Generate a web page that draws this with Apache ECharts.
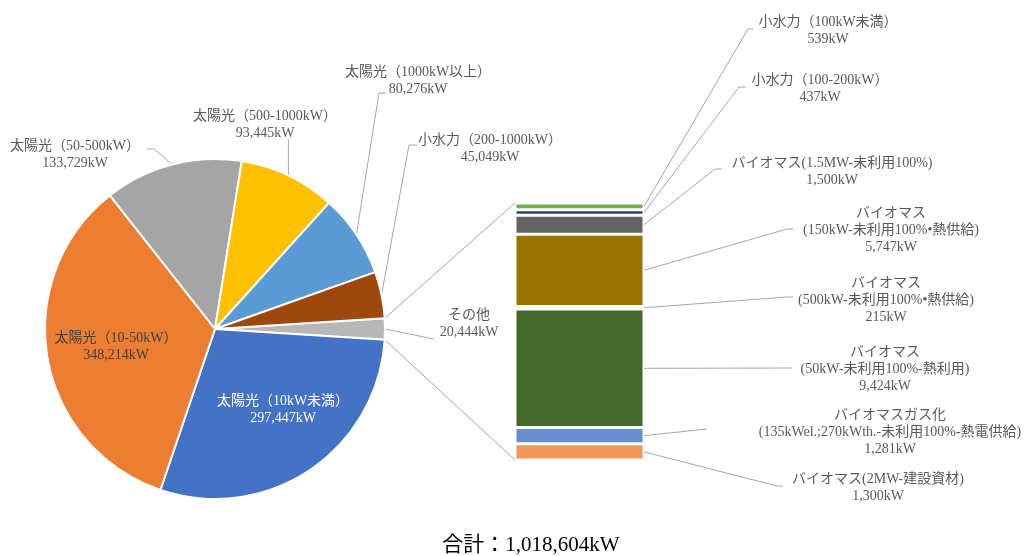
<!DOCTYPE html>
<html>
<head>
<meta charset="utf-8">
<script src="https://cdn.jsdelivr.net/npm/echarts@6/dist/echarts.min.js"></script>
<style>
  html, body { margin: 0; padding: 0; background: #ffffff; }
  #chart { width: 1031px; height: 556px; }
</style>
</head>
<body>
<div id="chart"></div>
<script>
// Pie slices, clockwise from the aggregated "その他" slice at 3 o'clock
const pieNames = ['その他', '太陽光（10kW未満）', '太陽光（10-50kW）', '太陽光（50-500kW）',
  '太陽光（500-1000kW）', '太陽光（1000kW以上）', '小水力（200-1000kW）'];
const pieValues = [20444, 297447, 348214, 133729, 93445, 80276, 45049];
const pieColors = ['#B7B7B7', '#4472C4', '#ED7D31', '#A5A5A5', '#FFC000', '#5B9BD5', '#9E480E'];

// Breakdown of "その他", stacked from the bottom of the bar upwards
const barNames = ['バイオマス(2MW-建設資材)', 'バイオマスガス化\n(135kWel.;270kWth.-未利用100%-熱電供給)',
  'バイオマス\n(50kW-未利用100%-熱利用)', 'バイオマス\n(500kW-未利用100%•熱供給)',
  'バイオマス\n(150kW-未利用100%•熱供給)', 'バイオマス(1.5MW-未利用100%)',
  '小水力（100-200kW）', '小水力（100kW未満）'];
const barValues = [1300, 1281, 9424, 215, 5747, 1500, 437, 539];
const barColors = ['#F1975A', '#698ED0', '#43682B', '#255E91', '#997300', '#636363', '#264478', '#70AD47'];

const FONT = "'Liberation Serif', 'Noto Sans CJK JP', serif";
const TEXT = '#595959';
const LINE = '#A6A6A6';

// Geometry of the pie and of the breakdown bar
const PIE = { cx: 215, cy: 329, r: 170 };
const BAR = { left: 515, top: 203, width: 129, height: 257 };

// Label anchor (centre of the text block) and leader-line bends
const pieLabelPos = [
  { x: 469, y: 324, bends: [[434, 339]] },
  { x: 283, y: 410, inside: true, color: '#FFFFFF' },
  { x: 116, y: 347, inside: true, color: '#404040' },
  { x: 75, y: 155, bends: [[154, 149], [147, 149]] },
  { x: 265, y: 124.5, vertical: 140 },
  { x: 418, y: 80.5, bends: [[379, 93], [386, 93]] },
  { x: 490, y: 149, bends: [[409, 145], [417, 145]] }
];
const barLabelPos = [
  { x: 878, y: 488, bends: [[777, 486], [783, 486]] },
  { x: 890, y: 432.5, bends: [[707, 429]] },
  { x: 885, y: 369, bends: [[792, 368]] },
  { x: 886, y: 300, bends: [[787, 297], [793, 297]] },
  { x: 891, y: 230.5, bends: [[787, 229], [793, 229]] },
  { x: 832, y: 171.5, bends: [[715, 169], [722, 169]] },
  { x: 820, y: 88.5, bends: [[739, 87], [746, 87]] },
  { x: 828, y: 30.5, bends: [[748, 29], [753, 29]] }
];

const fmt = v => v.toLocaleString('en-US');
const pieTotal = pieValues.reduce((a, b) => a + b, 0);
const barTotal = barValues.reduce((a, b) => a + b, 0);

// "その他" is centred on the horizontal axis
const halfOther = pieValues[0] / pieTotal * 180;
const rad = halfOther * Math.PI / 180;
const otherTop = [PIE.cx + PIE.r * Math.cos(rad), PIE.cy - PIE.r * Math.sin(rad)];
const otherBottom = [PIE.cx + PIE.r * Math.cos(rad), PIE.cy + PIE.r * Math.sin(rad)];

const pieData = pieNames.map((name, i) => ({
  name,
  value: pieValues[i],
  itemStyle: { color: pieColors[i] },
  label: { color: pieLabelPos[i].color || TEXT },
  labelLine: { show: !pieLabelPos[i].inside }
}));

const barSeries = barValues.map((v, i) => ({
  type: 'bar',
  name: barNames[i],
  stack: 'other',
  data: [v],
  barWidth: '100%',
  itemStyle: { color: barColors[i], borderColor: '#FFFFFF', borderWidth: 1.5 },
  label: {
    show: true,
    position: 'right',
    formatter: p => p.seriesName + '\n' + fmt(p.value) + 'kW',
    fontFamily: FONT, fontSize: 14, lineHeight: 17, color: TEXT, align: 'center'
  },
  labelLayout: () => ({
    x: barLabelPos[i].x, y: barLabelPos[i].y, align: 'center', verticalAlign: 'middle'
  }),
  emphasis: { disabled: true },
  silent: true
}));

const chart = echarts.init(document.getElementById('chart'), null, { renderer: 'canvas' });
chart.setOption({
  animation: false,
  backgroundColor: '#FFFFFF',
  grid: { left: BAR.left, top: BAR.top, width: BAR.width, height: BAR.height, containLabel: false },
  xAxis: { type: 'category', data: [''], show: false },
  yAxis: { type: 'value', min: 0, max: barTotal, show: false },
  series: [
    {
      type: 'pie',
      center: [PIE.cx, PIE.cy],
      radius: PIE.r,
      startAngle: halfOther,
      clockwise: true,
      avoidLabelOverlap: false,
      data: pieData,
      itemStyle: { borderColor: '#FFFFFF', borderWidth: 2 },
      label: {
        show: true,
        position: 'outside',
        formatter: p => p.name + '\n' + fmt(p.value) + 'kW',
        fontFamily: FONT, fontSize: 14, lineHeight: 17, align: 'center'
      },
      labelLine: { show: true, length: 10, length2: 10, lineStyle: { color: LINE, width: 1 } },
      labelLayout: p => {
        const pos = pieLabelPos[p.dataIndex];
        const out = { x: pos.x, y: pos.y, align: 'center', verticalAlign: 'middle' };
        if (!pos.inside && p.labelLinePoints) {
          const start = p.labelLinePoints[0];
          out.labelLinePoints = pos.vertical != null
            ? [start, [start[0], pos.vertical]]
            : [start].concat(pos.bends);
        }
        return out;
      },
      emphasis: { disabled: true },
      silent: true
    }
  ].concat(barSeries)
});

// Leader lines from the middle of each bar segment's right edge to its label
const graphics = [
  { type: 'line', silent: true, z: 0,
    shape: { x1: otherTop[0], y1: otherTop[1], x2: BAR.left, y2: BAR.top },
    style: { stroke: LINE, lineWidth: 1 } },
  { type: 'line', silent: true, z: 0,
    shape: { x1: otherBottom[0], y1: otherBottom[1], x2: BAR.left, y2: BAR.top + BAR.height },
    style: { stroke: LINE, lineWidth: 1 } },
  { type: 'text', silent: true, x: 531, y: 545,
    style: { text: '合計：' + fmt(pieTotal) + 'kW', fontFamily: FONT, fontSize: 21,
      fill: '#000000', align: 'center', verticalAlign: 'middle' } }
];
let cum = 0;
barValues.forEach((v, i) => {
  const mid = chart.convertToPixel({ xAxisIndex: 0, yAxisIndex: 0 }, [0, cum + v / 2]);
  cum += v;
  const start = [BAR.left + BAR.width, mid[1]];
  graphics.push({
    type: 'polyline', silent: true, z: 0,
    shape: { points: [start].concat(barLabelPos[i].bends) },
    style: { stroke: LINE, lineWidth: 1, fill: null }
  });
});
chart.setOption({ graphic: graphics });
</script>
</body>
</html>
